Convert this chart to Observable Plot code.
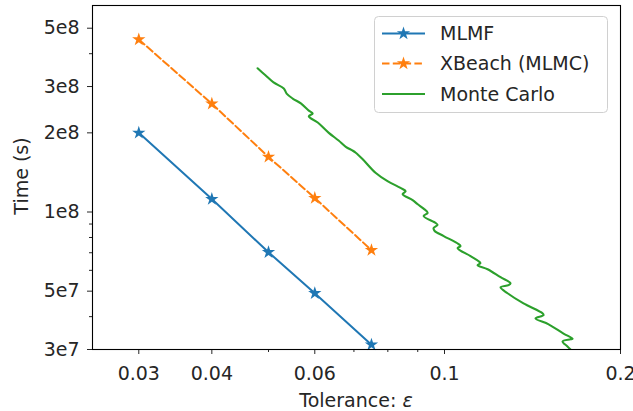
<!DOCTYPE html>
<html><head><meta charset="utf-8">
<script src="https://cdn.jsdelivr.net/npm/d3@7"></script>
<script src="https://cdn.jsdelivr.net/npm/@observablehq/plot@0.6"></script>
<style>
body{margin:0;background:#fff;}
</style></head><body><div id="chart"></div>
<script>
// ---- data ----
const tolerances = [0.03, 0.04, 0.05, 0.06, 0.075];
const mlmfTime = [2.0e8, 1.12e8, 7.03e7, 4.91e7, 3.13e7];
const xbeachTime = [4.53e8, 2.58e8, 1.62e8, 1.13e8, 7.16e7];
const mcTol = [0.0479,0.0494,0.0510,0.0531,0.0537,0.0550,0.0568,0.0586,0.0595,0.0586,
  0.0607,0.0634,0.0659,0.0678,0.0697,0.0705,0.0724,0.0762,0.0799,0.0841,
  0.0858,0.0848,0.0882,0.0900,0.0921,0.0936,0.0921,0.0966,0.0973,0.0958,
  0.0962,0.0997,0.1057,0.1065,0.1053,0.1108,0.1144,0.1152,0.1139,0.1185,
  0.1247,0.1297,0.1287,0.1247,0.1282,0.1365,0.1471,0.1477,0.1431,0.1507,
  0.1598,0.1656,0.1643,0.1592,0.1623,0.1656];
const mcTime = [3.52e8,3.31e8,3.11e8,2.95e8,2.82e8,2.70e8,2.59e8,2.43e8,2.37e8,2.31e8,
  2.19e8,2.00e8,1.87e8,1.77e8,1.71e8,1.68e8,1.59e8,1.41e8,1.31e8,1.235e8,
  1.20e8,1.17e8,1.11e8,1.07e8,1.03e8,9.92e7,9.66e7,9.08e7,8.93e7,8.69e7,
  8.47e7,8.10e7,7.55e7,7.42e7,7.29e7,6.80e7,6.50e7,6.39e7,6.28e7,6.06e7,
  5.65e7,5.36e7,5.27e7,5.17e7,4.91e7,4.49e7,4.12e7,4.05e7,3.94e7,3.74e7,
  3.45e7,3.30e7,3.28e7,3.22e7,3.08e7,2.95e7];
const xTicks = [0.03, 0.04, 0.06, 0.1, 0.2];
const xTickLabels = ["0.03", "0.04", "0.06", "0.1", "0.2"];
const xMinor = [0.05, 0.07, 0.08, 0.09];
const yTicks = [3e7, 5e7, 1e8, 2e8, 3e8, 5e8];
const yTickLabels = ["3e7", "5e7", "1e8", "2e8", "3e8", "5e8"];
const yMinor = [4e7, 6e7, 7e7, 8e7, 9e7, 4e8];
const seriesNames = ["MLMF", "XBeach (MLMC)", "Monte Carlo"];
const colors = ["#1f77b4", "#ff7f0e", "#2ca02c"];
const xLabel = "Tolerance: ";
const xLabelSymbol = "ε";
const yLabel = "Time (s)";

// ---- tables ----
const mlmf = tolerances.map((t, i) => ({tol: t, time: mlmfTime[i]}));
const xbeach = tolerances.map((t, i) => ({tol: t, time: xbeachTime[i]}));
const mc = mcTol.map((t, i) => ({tol: t, time: mcTime[i]}));

const FONT = "'DejaVu Sans', sans-serif";
const FS = 19;
const TXT = "#262626";
const dash = "7.5,3.3";
const starSize = 55;

const plot = Plot.plot({
  width: 633, height: 411,
  marginLeft: 92, marginRight: 13, marginTop: 5, marginBottom: 62,
  style: {fontFamily: FONT, fontSize: FS + "px", color: TXT, background: "#fff", overflow: "visible"},
  x: {type: "log", domain: [0.025, 0.2]},
  y: {type: "log", domain: [3e7, 6.1e8]},
  marks: [
    Plot.axisX(xTicks, {anchor: "bottom", tickSize: 5, tickPadding: 12, label: null,
      tickFormat: d => xTickLabels[xTicks.indexOf(d)]}),
    Plot.axisX(xMinor, {anchor: "bottom", tickSize: 3, label: null, tickFormat: () => ""}),
    Plot.axisY(yTicks, {anchor: "left", tickSize: 5, tickPadding: 8, label: null,
      tickFormat: d => yTickLabels[yTicks.indexOf(d)]}),
    Plot.axisY(yMinor, {anchor: "left", tickSize: 3, label: null, tickFormat: () => ""}),
    Plot.line(mlmf, {x: "tol", y: "time", stroke: colors[0], strokeWidth: 2}),
    Plot.dot(mlmf, {x: "tol", y: "time", symbol: "star", r: Math.sqrt(starSize / Math.PI), fill: colors[0], stroke: null}),
    Plot.line(xbeach, {x: "tol", y: "time", stroke: colors[1], strokeWidth: 2, strokeDasharray: dash}),
    Plot.dot(xbeach, {x: "tol", y: "time", symbol: "star", r: Math.sqrt(starSize / Math.PI), fill: colors[1], stroke: null}),
    Plot.line(mc, {x: "tol", y: "time", stroke: colors[2], strokeWidth: 2.1, curve: "catmull-rom", clip: true}),
    Plot.frame({stroke: "#000", strokeWidth: 1.1})
  ]
});

const svg = d3.select(plot);
// axis labels
svg.append("text")
  .attr("transform", "translate(28,176) rotate(-90)")
  .attr("text-anchor", "middle")
  .attr("font-family", FONT).attr("font-size", FS).attr("fill", TXT)
  .text(yLabel);
const xl = svg.append("text")
  .attr("x", 356).attr("y", 407)
  .attr("text-anchor", "middle")
  .attr("font-family", FONT).attr("font-size", FS).attr("fill", TXT);
xl.append("tspan").text(xLabel);
xl.append("tspan").attr("font-style", "italic").text(xLabelSymbol);

// legend
const lg = svg.append("g");
lg.append("rect").attr("x", 374.5).attr("y", 16.5).attr("width", 233).attr("height", 96)
  .attr("rx", 4).attr("fill", "#fff").attr("fill-opacity", 0.85)
  .attr("stroke", "#d0d0d0").attr("stroke-width", 1);
const rowsY = [33.5, 63.5, 94];
seriesNames.forEach((name, i) => {
  const y = rowsY[i];
  const ln = lg.append("line").attr("x1", 382).attr("x2", 425).attr("y1", y).attr("y2", y)
    .attr("stroke", colors[i]).attr("stroke-width", 2);
  if (i === 1) ln.attr("stroke-dasharray", dash);
  if (i < 2) {
    lg.append("path").attr("d", d3.symbol(d3.symbolStar, starSize)())
      .attr("transform", `translate(403.5,${y})`).attr("fill", colors[i]);
  }
  lg.append("text").attr("x", 440).attr("y", y).attr("dy", "0.35em")
    .attr("text-anchor", "start")
    .attr("font-family", FONT).attr("font-size", FS).attr("fill", TXT)
    .text(name);
});

document.getElementById("chart").appendChild(plot);
</script>
</body></html>
